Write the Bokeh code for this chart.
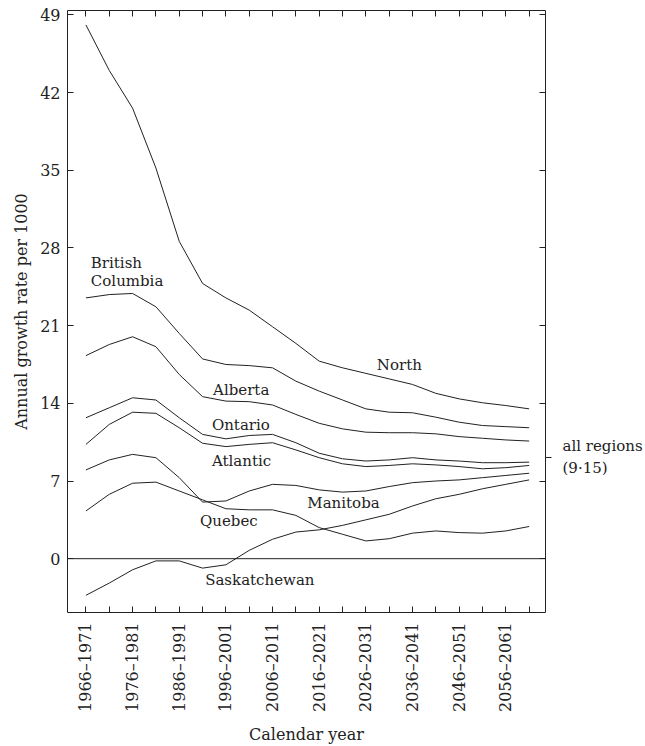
import math
from bokeh.plotting import figure
from bokeh.models import LinearAxis, FixedTicker, Range1d, Label, Span
from bokeh.embed import file_html
from bokeh.resources import INLINE

# ---------------- data ----------------
periods = ["1966–1971", "1971–1976", "1976–1981", "1981–1986", "1986–1991",
           "1991–1996", "1996–2001", "2001–2006", "2006–2011", "2011–2016",
           "2016–2021", "2021–2026", "2026–2031", "2031–2036", "2036–2041",
           "2041–2046", "2046–2051", "2051–2056", "2056–2061", "2061–2066"]

north = [48.1, 44.0, 40.6, 35.2, 28.6, 24.8, 23.5, 22.4, 20.9, 19.4,
         17.8, 17.2, 16.7, 16.2, 15.7, 14.9, 14.4, 14.05, 13.8, 13.5]
british_columbia = [23.5, 23.8, 23.9, 22.7, 20.3, 18.0, 17.5, 17.4, 17.2, 16.0,
                    15.1, 14.3, 13.5, 13.2, 13.15, 12.75, 12.3, 12.0, 11.9, 11.8]
alberta = [18.3, 19.3, 20.0, 19.1, 16.6, 14.6, 14.2, 14.15, 13.85, 13.0,
           12.2, 11.7, 11.4, 11.35, 11.35, 11.25, 11.0, 10.85, 10.7, 10.6]
ontario = [12.7, 13.6, 14.5, 14.3, 12.7, 11.2, 10.8, 11.1, 11.2, 10.45,
           9.5, 9.0, 8.8, 8.9, 9.1, 8.9, 8.8, 8.65, 8.65, 8.7]
atlantic = [10.3, 12.1, 13.2, 13.1, 11.8, 10.4, 10.1, 10.3, 10.45, 9.8,
            9.1, 8.55, 8.3, 8.4, 8.55, 8.45, 8.3, 8.1, 8.2, 8.4]
manitoba = [8.0, 8.9, 9.4, 9.1, 7.3, 5.1, 5.2, 6.1, 6.7, 6.6,
            6.2, 6.0, 6.1, 6.5, 6.85, 7.0, 7.1, 7.3, 7.5, 7.7]
quebec = [4.3, 5.8, 6.8, 6.9, 6.1, 5.3, 4.5, 4.4, 4.4, 3.9,
          2.8, 2.2, 1.6, 1.8, 2.3, 2.5, 2.35, 2.3, 2.5, 2.9]
saskatchewan = [-3.3, -2.2, -1.0, -0.2, -0.2, -0.85, -0.55, 0.75, 1.75, 2.4,
                2.6, 3.0, 3.5, 4.0, 4.75, 5.4, 5.8, 6.3, 6.7, 7.1]

all_regions = 9.15
all_regions_label = "all regions\n(9·15)"
y_ticks = [0, 7, 14, 21, 28, 35, 42, 49]

series = [north, british_columbia, alberta, ontario, atlantic,
          manitoba, quebec, saskatchewan]

# ---------------- styling ----------------
INK = "#222222"
FONT = "DejaVu Serif"

x = list(range(len(periods)))

p = figure(width=645, height=746, output_backend="svg", toolbar_location=None,
           x_range=Range1d(-0.79, 19.7), y_range=Range1d(-4.85, 49.4),
           x_axis_location=None, y_axis_location=None,
           min_border_left=67, min_border_right=97,
           min_border_top=10, min_border_bottom=132,
           background_fill_color="white", border_fill_color="white")
p.outline_line_color = INK
p.outline_line_width = 1
p.grid.grid_line_color = None

# bottom axis
xb = LinearAxis(
    ticker=FixedTicker(ticks=list(range(0, 20, 2)), minor_ticks=list(range(1, 20, 2))),
    major_label_overrides={i: periods[i] for i in range(0, 20, 2)},
    major_label_orientation=math.pi / 2,
    major_tick_in=6, major_tick_out=0, minor_tick_in=6, minor_tick_out=0,
    major_tick_line_color=INK, minor_tick_line_color=INK,
    axis_line_color=None, major_label_standoff=10,
    major_label_text_font=FONT, major_label_text_font_size="16px",
    major_label_text_color=INK,
    axis_label="Calendar year", axis_label_standoff=10,
    axis_label_text_font=FONT, axis_label_text_font_size="16px",
    axis_label_text_font_style="normal", axis_label_text_color=INK)
p.add_layout(xb, "below")

# top axis (ticks only)
xt = LinearAxis(
    ticker=FixedTicker(ticks=x),
    major_tick_in=6, major_tick_out=0, major_tick_line_color=INK,
    minor_tick_line_color=None, axis_line_color=None,
    major_label_text_color=None, major_label_text_font_size="1px",
    major_label_standoff=0)
p.add_layout(xt, "above")

# left axis
yl = LinearAxis(
    ticker=FixedTicker(ticks=y_ticks),
    major_tick_in=6, major_tick_out=0, major_tick_line_color=INK,
    minor_tick_line_color=None, axis_line_color=None,
    major_label_standoff=7,
    major_label_text_font=FONT, major_label_text_font_size="16px",
    major_label_text_color=INK,
    axis_label="Annual growth rate per 1000", axis_label_standoff=6,
    axis_label_text_font=FONT, axis_label_text_font_size="16px",
    axis_label_text_font_style="normal", axis_label_text_color=INK)
p.add_layout(yl, "left")

# right axis: inward ticks + outward "all regions" tick with its label
yr = LinearAxis(
    ticker=FixedTicker(ticks=[all_regions], minor_ticks=y_ticks),
    major_label_overrides={all_regions: all_regions_label},
    major_tick_in=0, major_tick_out=6, minor_tick_in=6, minor_tick_out=0,
    major_tick_line_color=INK, minor_tick_line_color=INK,
    axis_line_color=None, major_label_standoff=11,
    major_label_text_font=FONT, major_label_text_font_size="15px",
    major_label_text_color=INK)
p.add_layout(yr, "right")

# zero line
p.add_layout(Span(location=0, dimension="width", line_color=INK, line_width=1))

for s in series:
    p.line(x, s, line_color=INK, line_width=1)

labels = [
    ("British", 0.21, 26.66),
    ("Columbia", 0.21, 25.04),
    ("North", 12.47, 17.41),
    ("Alberta", 5.45, 15.17),
    ("Ontario", 5.40, 12.03),
    ("Atlantic", 5.40, 8.80),
    ("Manitoba", 9.49, 5.03),
    ("Quebec", 4.89, 3.41),
    ("Saskatchewan", 5.11, -1.89),
]
for t, lx, ly in labels:
    p.add_layout(Label(x=lx, y=ly, text=t, text_font=FONT, text_font_size="15px",
                       text_color=INK, text_baseline="middle", text_align="left"))

open("out.html", "w").write(file_html(p, INLINE))
